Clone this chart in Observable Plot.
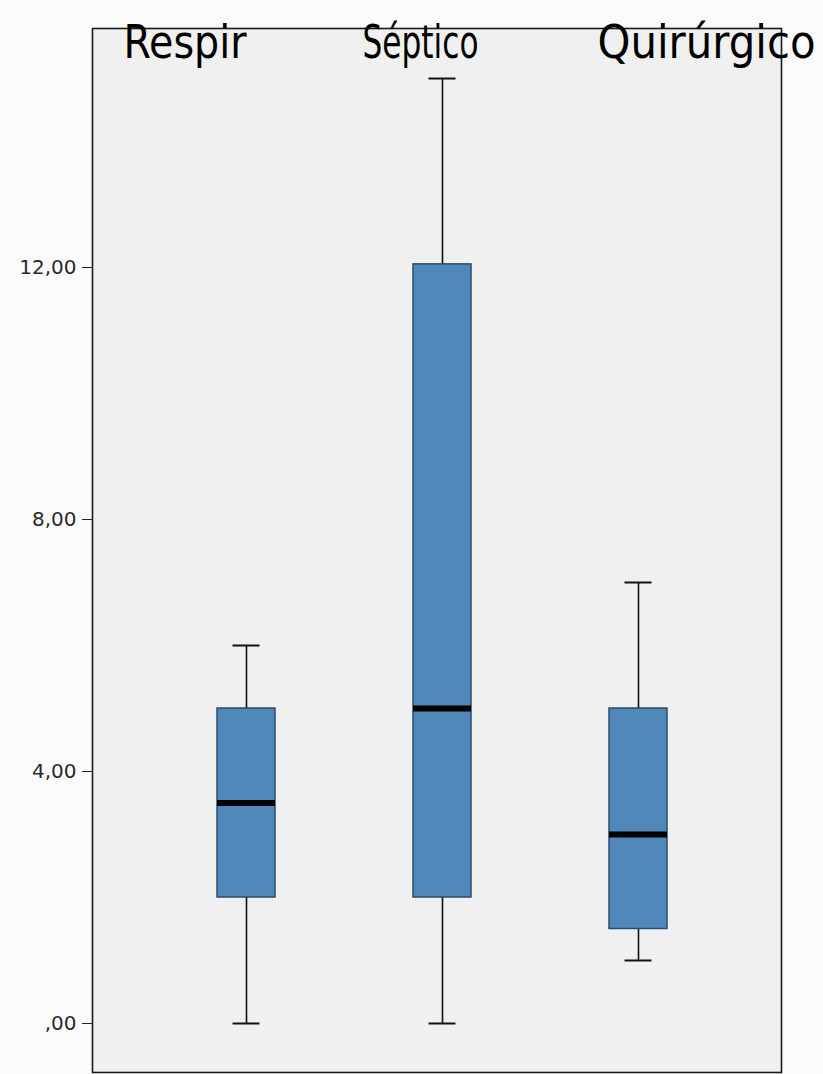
<!DOCTYPE html>
<html>
<head>
<meta charset="utf-8">
<script src="https://cdn.jsdelivr.net/npm/d3@7"></script>
<script src="https://cdn.jsdelivr.net/npm/@observablehq/plot@0.6"></script>
<style>
  html, body { margin: 0; padding: 0; background: #fbfbfb; }
  #chart svg { display: block; }
</style>
</head>
<body>
<div id="chart"></div>
<script>
// Data
const categories = ["Respir", "Séptico", "Quirúrgico"];
const whiskerLow = [0, 0, 1];
const q1 = [2, 2, 1.5];
const median = [3.5, 5, 3];
const q3 = [5, 12.05, 5];
const whiskerHigh = [6, 15, 7];
const yTicks = [0, 4, 8, 12];
const yTickLabels = [",00", "4,00", "8,00", "12,00"];

const boxes = categories.map((c, i) => ({
  cat: c, lo: whiskerLow[i], q1: q1[i], med: median[i], q3: q3[i], hi: whiskerHigh[i]
}));

// label styling (offsets / widths of the top labels)
const labelDx = [-123, -80, -41];
const labelLen = [123, 116, 218];

const marks = [
  Plot.frame({fill: "#f0f0f0", stroke: "none"}),
  Plot.ruleX(boxes, {x: "cat", y1: "lo", y2: "hi", stroke: "#111", strokeWidth: 1.6}),
  Plot.tickY(boxes, {x: "cat", y: "lo", stroke: "#111", strokeWidth: 2, insetLeft: 15.5, insetRight: 15.5}),
  Plot.tickY(boxes, {x: "cat", y: "hi", stroke: "#111", strokeWidth: 2, insetLeft: 15.5, insetRight: 15.5}),
  Plot.barY(boxes, {x: "cat", y1: "q1", y2: "q3", fill: "#5088b9", stroke: "#2b4b6e", strokeWidth: 1.5}),
  Plot.tickY(boxes, {x: "cat", y: "med", stroke: "#000", strokeWidth: 6}),
  Plot.axisY({
    ticks: yTicks,
    tickFormat: (d) => yTickLabels[yTicks.indexOf(d)],
    tickSize: 10, tickPadding: 6, label: null,
    fontSize: 20, fill: "#2a2a2a", stroke: "#222"
  }),
  Plot.frame({stroke: "#1a1a1a", strokeWidth: 1.6}),
  ...categories.map((c, i) => Plot.text([c], {
    x: (d) => d, frameAnchor: "top", lineAnchor: "bottom", dy: 29, dx: labelDx[i],
    textAnchor: "start", fontSize: 47, fill: "#000",
    className: "catlabel" + i
  }))
];

const chart = Plot.plot({
  width: 823,
  height: 1074,
  marginTop: 28,
  marginBottom: 2,
  marginLeft: 92,
  marginRight: 42,
  style: {fontFamily: "'DejaVu Sans', sans-serif", background: "transparent", overflow: "visible"},
  x: {type: "band", domain: categories, range: [146.75, 736.25], paddingInner: 0.705, paddingOuter: 0.3525, axis: null},
  y: {domain: [-0.778, 15.794], axis: null},
  marks
});

categories.forEach((c, i) => {
  d3.select(chart).selectAll(".catlabel" + i + " text")
    .attr("textLength", labelLen[i])
    .attr("lengthAdjust", "spacingAndGlyphs")
    .style("font-family", "'Liberation Sans Narrow', 'DejaVu Sans Condensed', sans-serif");
});

document.getElementById("chart").appendChild(chart);
</script>
</body>
</html>
